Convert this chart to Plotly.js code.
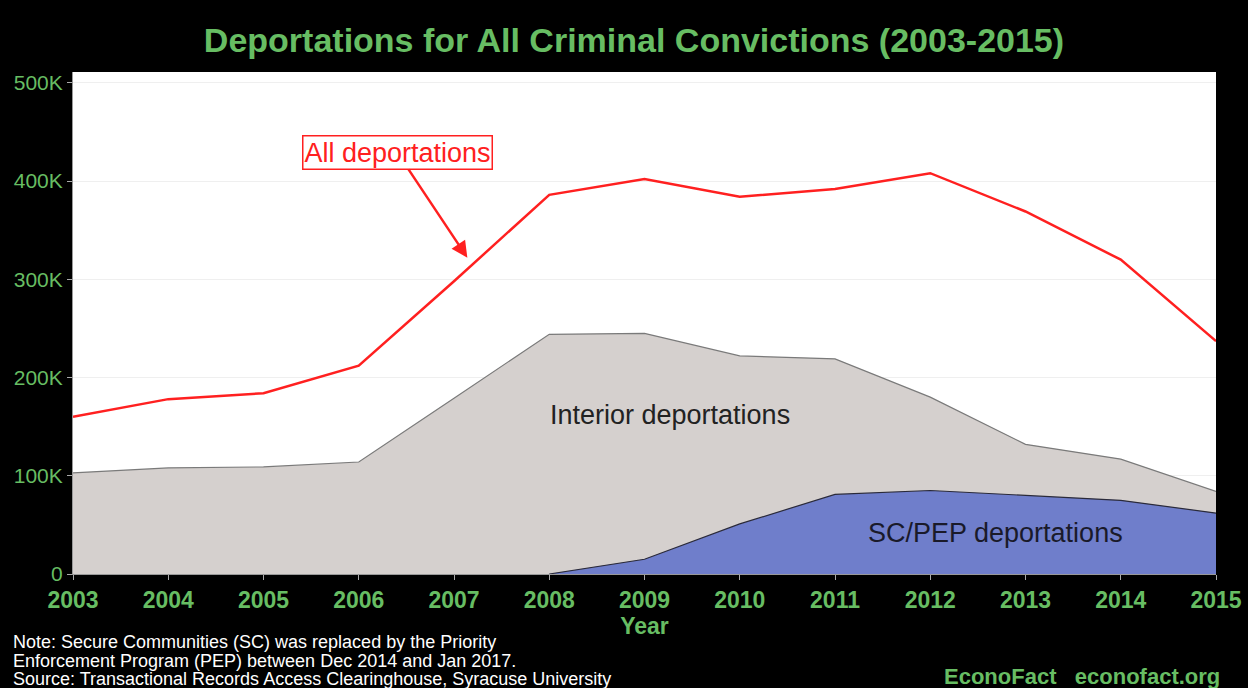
<!DOCTYPE html>
<html>
<head>
<meta charset="utf-8">
<script src="https://cdn.plot.ly/plotly-3.0.1.min.js"></script>
<style>html,body{margin:0;padding:0;background:#000;}#chart{width:1248px;height:688px;}</style>
</head>
<body>
<div id="chart"></div>
<script>
const years = [2003, 2004, 2005, 2006, 2007, 2008, 2009, 2010, 2011, 2012, 2013, 2014, 2015];
const allDeportations = [160000, 178000, 184000, 212000, 298000, 386000, 402000, 384000, 392000, 408000, 369000, 320000, 237000];
const interiorDeportations = [103000, 108000, 109000, 114000, 179000, 244000, 245000, 222000, 219000, 180000, 132000, 117000, 84000];
const scpepDeportations = [null, null, null, null, null, 0, 15000, 51000, 81000, 85000, 80000, 75000, 62000];
const yTickVals = [0, 100000, 200000, 300000, 400000, 500000];
const yTickText = ["0", "100K", "200K", "300K", "400K", "500K"];
const xTickText = years.map(String);
const noteLines = [
  "Note: Secure Communities (SC) was replaced by the Priority",
  "Enforcement Program (PEP) between Dec 2014 and Jan 2017.",
  "Source: Transactional Records Access Clearinghouse, Syracuse University"
];

const green = "#67bd63";
const font = "Liberation Sans, Arial, sans-serif";

const traces = [
  {x: years, y: interiorDeportations, type: "scatter", mode: "lines", fill: "tozeroy",
   fillcolor: "#d5d0ce", line: {color: "#7a7a7a", width: 1.2}, hoverinfo: "skip"},
  {x: years, y: scpepDeportations, type: "scatter", mode: "lines", fill: "tozeroy",
   fillcolor: "#6f7ecb", line: {color: "#2a2a3a", width: 1.2}, hoverinfo: "skip"},
  {x: years, y: allDeportations, type: "scatter", mode: "lines",
   line: {color: "#ff2020", width: 2.5}, hoverinfo: "skip"}
];

const plotH = 688 - 72 - 114;
const plotW = 1248 - 73 - 32;
const py = px => -(px - 574) / plotH;
const pxX = px => (px - 73) / plotW;

const annotations = [
  {x: 2009.27, y: 162000, xref: "x", yref: "y", text: "Interior deportations", showarrow: false,
   font: {family: font, size: 27, color: "#222"}},
  {x: 2012.68, y: 42000, xref: "x", yref: "y", text: "SC/PEP deportations", showarrow: false,
   font: {family: font, size: 27, color: "#1a1a2a"}},
  {x: 2007.14, y: 322000, xref: "x", yref: "y", text: "All deportations", showarrow: true,
   ax: -70, ay: -105, arrowhead: 2, arrowsize: 1.3, arrowwidth: 2.5, arrowcolor: "#ff2020",
   font: {family: font, size: 27, color: "#ff2020"}, bgcolor: "#fff",
   bordercolor: "#ff2020", borderwidth: 1.5, borderpad: 1},
  {x: pxX(943), y: py(676), xref: "paper", yref: "paper", xanchor: "left", yanchor: "middle",
   showarrow: false, text: "<b>EconoFact&nbsp;&nbsp;&nbsp;econofact.org</b>",
   font: {family: font, size: 22, color: green}, borderpad: 0}
];
const noteY = [642, 661, 679];
noteLines.forEach((t, i) => annotations.push({
  x: pxX(12), y: py(noteY[i]), xref: "paper", yref: "paper", xanchor: "left", yanchor: "middle",
  showarrow: false, text: t, borderpad: 0, font: {family: font, size: 18, color: "#fff"}
}));

const layout = {
  width: 1248, height: 688,
  paper_bgcolor: "#000", plot_bgcolor: "#fff",
  showlegend: false,
  margin: {l: 73, r: 32, t: 72, b: 114},
  title: {text: "<b>Deportations for All Criminal Convictions (2003-2015)</b>",
          font: {family: font, size: 34, color: green}, x: 0.508, xanchor: "center", y: 0.942, yanchor: "middle"},
  xaxis: {range: [2003, 2015], tickvals: years, ticktext: xTickText, showgrid: false,
          ticks: "outside", ticklen: 5, tickcolor: "#aaa", showline: true, linecolor: "#999",
          tickfont: {family: font, size: 23, color: green, weight: "bold"}, zeroline: false,
          title: {text: "<b>Year</b>", font: {family: font, size: 23, color: green}, standoff: 6}},
  yaxis: {range: [0, 511000], tickvals: yTickVals, ticktext: yTickText, showgrid: true,
          gridcolor: "#efefef", ticks: "outside", ticklen: 5, tickcolor: "#aaa",
          showline: true, linecolor: "#999", zeroline: false,
          tickfont: {family: font, size: 21, color: green}},
  annotations: annotations
};
Plotly.newPlot("chart", traces, layout, {displayModeBar: false, staticPlot: true});
</script>
</body>
</html>
